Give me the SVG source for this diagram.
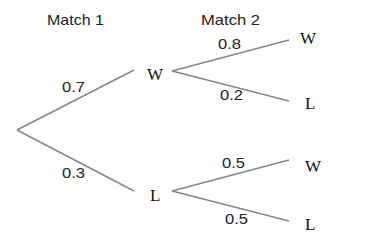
<svg xmlns="http://www.w3.org/2000/svg" width="388" height="244" viewBox="0 0 388 244">
<style>
.h{font-family:"Liberation Sans",Arial,sans-serif;font-size:15px;fill:#222}
.p{font-family:"Liberation Sans",Arial,sans-serif;font-size:14px;fill:#222}
.n{font-family:"Liberation Serif","Times New Roman",serif;font-size:17px;fill:#111}
.e{stroke:#858585;stroke-width:1.5;fill:none}
</style>
<rect width="388" height="244" fill="#fff"/>
<g id="headers">
<text class="h" x="47" y="25" textLength="57" lengthAdjust="spacingAndGlyphs">Match 1</text>
<text class="h" x="201" y="25" textLength="59" lengthAdjust="spacingAndGlyphs">Match 2</text>
</g>
<g id="connectors">
<line class="e" x1="17" y1="130" x2="134" y2="70"/>
<line class="e" x1="17" y1="130" x2="134" y2="191"/>
<line class="e" x1="172" y1="71" x2="289" y2="40"/>
<line class="e" x1="172" y1="71" x2="289" y2="101"/>
<line class="e" x1="172" y1="191" x2="289" y2="160"/>
<line class="e" x1="172" y1="191" x2="289" y2="221"/>
</g>
<g id="labels">
<text class="p" x="62" y="92" textLength="23" lengthAdjust="spacingAndGlyphs">0.7</text>
<text class="p" x="62" y="178" textLength="23" lengthAdjust="spacingAndGlyphs">0.3</text>
<text class="p" x="218" y="49" textLength="23" lengthAdjust="spacingAndGlyphs">0.8</text>
<text class="p" x="220" y="100" textLength="23" lengthAdjust="spacingAndGlyphs">0.2</text>
<text class="p" x="222" y="168" textLength="23" lengthAdjust="spacingAndGlyphs">0.5</text>
<text class="p" x="225" y="224" textLength="23" lengthAdjust="spacingAndGlyphs">0.5</text>
</g>
<g id="node-W1"><text class="n" x="147" y="80">W</text></g>
<g id="node-L1"><text class="n" x="150" y="201">L</text></g>
<g id="node-WW"><text class="n" x="300" y="44">W</text></g>
<g id="node-WL"><text class="n" x="305" y="109">L</text></g>
<g id="node-LW"><text class="n" x="305" y="172">W</text></g>
<g id="node-LL"><text class="n" x="305" y="230">L</text></g>
</svg>
